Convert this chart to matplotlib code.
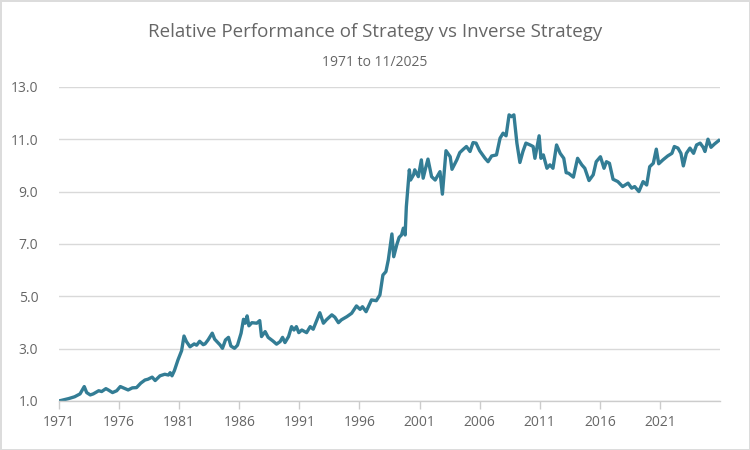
import matplotlib.pyplot as plt
import numpy as np

# values (decimal year, ratio)
years = [1971.0, 1971.8, 1972.3, 1972.75, 1973.1, 1973.3, 1973.6, 1973.85, 1974.3, 1974.55,
         1974.9, 1975.1, 1975.45, 1975.8, 1976.1, 1976.5, 1976.75, 1977.1, 1977.45, 1977.8,
         1978.15, 1978.4, 1978.75, 1979.0, 1979.4, 1979.8, 1980.1, 1980.25, 1980.4, 1980.6,
         1980.9, 1981.2, 1981.4, 1981.6, 1981.9, 1982.25, 1982.45, 1982.7, 1983.0, 1983.15,
         1983.4, 1983.75, 1983.95, 1984.4, 1984.6, 1984.85, 1985.1, 1985.3, 1985.6, 1985.85,
         1986.15, 1986.35, 1986.5, 1986.65, 1986.8, 1987.05, 1987.45, 1987.7, 1987.85, 1988.15,
         1988.4, 1988.8, 1989.1, 1989.4, 1989.6, 1989.8, 1990.1, 1990.35, 1990.55, 1990.75,
         1990.95, 1991.2, 1991.6, 1991.9, 1992.15, 1992.35, 1992.7, 1993.0, 1993.25, 1993.7,
         1993.95, 1994.25, 1994.5, 1994.95, 1995.35, 1995.75, 1996.05, 1996.25, 1996.55, 1997.0,
         1997.4, 1997.7, 1997.95, 1998.2, 1998.4, 1998.7, 1998.85, 1999.1, 1999.3, 1999.5,
         1999.65, 1999.8, 1999.9, 2000.15, 2000.25, 2000.5, 2000.6, 2000.9, 2001.15, 2001.3,
         2001.5, 2001.7, 2002.0, 2002.3, 2002.7, 2002.9, 2003.2, 2003.55, 2003.7, 2004.1,
         2004.35, 2004.65, 2004.9, 2005.2, 2005.45, 2005.7, 2006.0, 2006.45, 2006.7, 2007.0,
         2007.4, 2007.7, 2007.95, 2008.2, 2008.45, 2008.65, 2008.85, 2009.1, 2009.35, 2009.6,
         2009.85, 2010.2, 2010.45, 2010.6, 2010.95, 2011.1, 2011.3, 2011.6, 2011.85, 2012.1,
         2012.4, 2012.7, 2013.0, 2013.2, 2013.4, 2013.8, 2014.15, 2014.5, 2014.75, 2015.1,
         2015.45, 2015.7, 2016.05, 2016.35, 2016.55, 2016.8, 2017.1, 2017.5, 2017.9, 2018.35,
         2018.65, 2018.9, 2019.25, 2019.6, 2019.9, 2020.15, 2020.45, 2020.7, 2020.9, 2021.25,
         2021.65, 2022.0, 2022.2, 2022.5, 2022.75, 2022.95, 2023.2, 2023.5, 2023.8, 2024.05,
         2024.35, 2024.6, 2024.75, 2025.0, 2025.25, 2025.55, 2025.9]
ratio = [1.00, 1.09, 1.16, 1.27, 1.55, 1.32, 1.23, 1.27, 1.39, 1.36,
         1.47, 1.42, 1.32, 1.39, 1.55, 1.47, 1.42, 1.50, 1.51, 1.68,
         1.80, 1.83, 1.91, 1.78, 1.96, 2.02, 1.99, 2.08, 1.96, 2.16,
         2.57, 2.92, 3.48, 3.27, 3.07, 3.18, 3.13, 3.28, 3.15, 3.18,
         3.33, 3.59, 3.36, 3.14, 3.01, 3.33, 3.43, 3.10, 3.01, 3.13,
         3.59, 4.12, 3.97, 4.25, 3.87, 3.99, 3.97, 4.07, 3.46, 3.65,
         3.43, 3.29, 3.17, 3.27, 3.43, 3.23, 3.46, 3.84, 3.71, 3.84,
         3.61, 3.71, 3.61, 3.84, 3.74, 3.97, 4.37, 3.97, 4.10, 4.29,
         4.20, 3.99, 4.10, 4.22, 4.35, 4.63, 4.50, 4.60, 4.41, 4.86,
         4.83, 5.05, 5.81, 5.94, 6.39, 7.38, 6.51, 6.96, 7.25, 7.34,
         7.60, 7.34, 8.42, 9.83, 9.44, 9.64, 9.83, 9.57, 10.21, 9.51,
         9.89, 10.24, 9.57, 9.44, 9.76, 8.90, 10.56, 10.33, 9.85, 10.21,
         10.49, 10.62, 10.72, 10.53, 10.87, 10.85, 10.56, 10.27, 10.14, 10.36,
         10.40, 11.04, 11.23, 11.13, 11.93, 11.86, 11.93, 10.85, 10.11, 10.53,
         10.85, 10.78, 10.72, 10.27, 11.13, 10.27, 10.40, 9.89, 10.02, 9.89,
         10.78, 10.46, 10.27, 9.72, 9.70, 9.55, 10.27, 10.02, 9.89, 9.42,
         9.64, 10.14, 10.33, 9.89, 10.14, 10.08, 9.47, 9.38, 9.19, 9.32,
         9.13, 9.19, 9.00, 9.38, 9.25, 9.95, 10.08, 10.62, 10.06, 10.21,
         10.36, 10.46, 10.72, 10.66, 10.46, 9.98, 10.46, 10.66, 10.46, 10.78,
         10.85, 10.69, 10.53, 11.00, 10.69, 10.82, 10.95]

tickYears = [1971, 1976, 1981, 1986, 1991, 1996, 2001, 2006, 2011, 2016, 2021]
yTicks = [1.0, 3.0, 5.0, 7.0, 9.0, 11.0, 13.0]

plt.rcParams['font.family'] = ['Open Sans', 'DejaVu Sans']

fig = plt.figure(figsize=(7.5, 4.5), dpi=100, edgecolor='#dcdcdc', linewidth=2)
ax = fig.add_axes([0.0787, 0.109, 0.8813, 0.698])

ax.plot(years, ratio, color='#337d95', linewidth=2.4, solid_joinstyle='round')

ax.set_xlim(1971, 2026)
ax.set_ylim(1.0, 13.0)
ax.set_yticks(yTicks)
ax.set_yticklabels([f'{v:.1f}' for v in yTicks])
ax.set_xticks(tickYears)
ax.set_xticklabels([str(y) for y in tickYears])

ax.grid(axis='y', color='#d9d9d9', linewidth=1)
ax.set_axisbelow(True)
for side in ['top', 'right', 'left']:
    ax.spines[side].set_visible(False)
ax.spines['bottom'].set_color('#cccccc')
ax.spines['bottom'].set_linewidth(1)

ax.tick_params(axis='y', length=0, pad=15, labelsize=10, labelcolor='#666666')
ax.tick_params(axis='x', length=6, width=1, color='#cccccc', pad=4,
               labelsize=10, labelcolor='#666666')

fig.text(0.5, 0.929, 'Relative Performance of Strategy vs Inverse Strategy',
         ha='center', va='center', fontsize=13.5, color='#666666', fontweight='medium')
fig.text(0.5, 0.862, '1971 to 11/2025', ha='center', va='center',
         fontsize=10, color='#666666')

fig.savefig('out.png', dpi=100, edgecolor=fig.get_edgecolor())
